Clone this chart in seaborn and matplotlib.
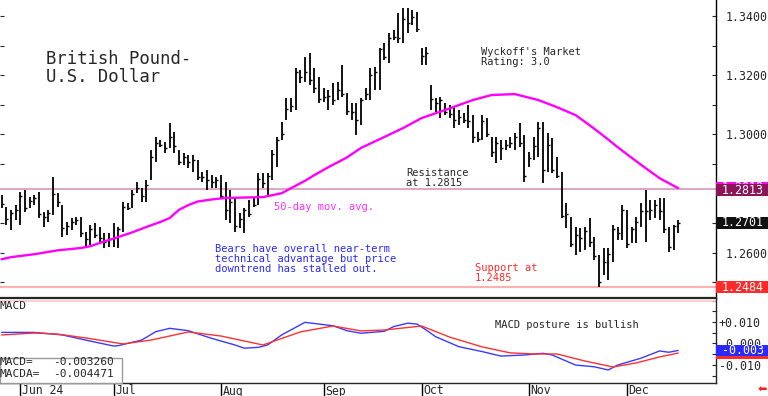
import numpy as np
import pandas as pd
import matplotlib
matplotlib.use("Agg")
import matplotlib.pyplot as plt
import matplotlib.transforms as mtransforms
from matplotlib.patches import Rectangle
import seaborn as sns

# ================================
# Data
# ================================
dates = pd.bdate_range("2024-05-28", "2024-12-17")   # trading days shown

high = [1.2795, 1.2754, 1.2744, 1.2761, 1.2805, 1.2812, 1.2788, 1.2795, 1.2805, 1.2737,
        1.2744, 1.2856, 1.2801, 1.2761, 1.2703, 1.2717, 1.2720, 1.2720, 1.2670, 1.2693,
        1.2700, 1.2687, 1.2666, 1.2666, 1.2700, 1.2687, 1.2771, 1.2768, 1.2812, 1.2839,
        1.2818, 1.2845, 1.2947, 1.2991, 1.2981, 1.2974, 1.3038, 1.3008, 1.2947, 1.2937,
        1.2930, 1.2930, 1.2913, 1.2873, 1.2879, 1.2862, 1.2856, 1.2862, 1.2839, 1.2812,
        1.2785, 1.2734, 1.2751, 1.2778, 1.2788, 1.2869, 1.2869, 1.2869, 1.2947, 1.2991,
        1.3042, 1.3123, 1.3123, 1.3224, 1.3217, 1.3261, 1.3275, 1.3224, 1.3194, 1.3156,
        1.3150, 1.3173, 1.3177, 1.3234, 1.3140, 1.3106, 1.3106, 1.3123, 1.3156, 1.3224,
        1.3227, 1.3292, 1.3309, 1.3342, 1.3353, 1.3410, 1.3427, 1.3427, 1.3420, 1.3413,
        1.3292, 1.3295, 1.3167, 1.3123, 1.3126, 1.3106, 1.3099, 1.3089, 1.3082, 1.3072,
        1.3099, 1.3065, 1.3008, 1.3065, 1.3055, 1.2991, 1.2991, 1.2981, 1.2981, 1.2991,
        1.3004, 1.3038, 1.2998, 1.2940, 1.2991, 1.3042, 1.3042, 1.3004, 1.2987, 1.2923,
        1.2873, 1.2768, 1.2720, 1.2687, 1.2683, 1.2687, 1.2717, 1.2653, 1.2592, 1.2616,
        1.2616, 1.2693, 1.2687, 1.2761, 1.2744, 1.2687, 1.2720, 1.2768, 1.2812, 1.2778,
        1.2778, 1.2785, 1.2785, 1.2687, 1.2693, 1.2712]

low = [1.2751, 1.2693, 1.2676, 1.2710, 1.2693, 1.2737, 1.2751, 1.2761, 1.2717, 1.2687,
       1.2703, 1.2727, 1.2754, 1.2653, 1.2659, 1.2676, 1.2693, 1.2653, 1.2619, 1.2626,
       1.2649, 1.2636, 1.2616, 1.2619, 1.2619, 1.2616, 1.2670, 1.2744, 1.2751, 1.2801,
       1.2771, 1.2771, 1.2845, 1.2906, 1.2957, 1.2937, 1.2954, 1.2937, 1.2896, 1.2896,
       1.2886, 1.2873, 1.2845, 1.2839, 1.2812, 1.2818, 1.2818, 1.2785, 1.2710, 1.2700,
       1.2670, 1.2683, 1.2666, 1.2720, 1.2754, 1.2761, 1.2818, 1.2795, 1.2845, 1.2889,
       1.2981, 1.3048, 1.3075, 1.3082, 1.3173, 1.3177, 1.3167, 1.3140, 1.3106, 1.3109,
       1.3082, 1.3099, 1.3116, 1.3126, 1.3065, 1.3048, 1.2998, 1.3031, 1.3116, 1.3116,
       1.3150, 1.3150, 1.3251, 1.3241, 1.3319, 1.3309, 1.3309, 1.3342, 1.3370, 1.3346,
       1.3234, 1.3234, 1.3082, 1.3075, 1.3055, 1.3065, 1.3055, 1.3021, 1.3031, 1.3038,
       1.3021, 1.2971, 1.2974, 1.2981, 1.2991, 1.2923, 1.2903, 1.2913, 1.2947, 1.2954,
       1.2947, 1.2957, 1.2839, 1.2889, 1.2913, 1.2923, 1.2835, 1.2873, 1.2869, 1.2852,
       1.2717, 1.2683, 1.2619, 1.2592, 1.2602, 1.2609, 1.2619, 1.2575, 1.2484, 1.2524,
       1.2507, 1.2568, 1.2643, 1.2643, 1.2616, 1.2633, 1.2633, 1.2687, 1.2636, 1.2710,
       1.2717, 1.2710, 1.2666, 1.2602, 1.2609, 1.2666]

close = [1.2765, 1.2715, 1.2735, 1.2745, 1.2790, 1.2750, 1.2775, 1.2785, 1.2730, 1.2720,
         1.2735, 1.2800, 1.2770, 1.2685, 1.2690, 1.2705, 1.2710, 1.2665, 1.2645, 1.2680,
         1.2660, 1.2650, 1.2635, 1.2645, 1.2650, 1.2680, 1.2755, 1.2750, 1.2800, 1.2820,
         1.2790, 1.2830, 1.2925, 1.2970, 1.2965, 1.2955, 1.2990, 1.2960, 1.2905, 1.2925,
         1.2905, 1.2915, 1.2855, 1.2855, 1.2845, 1.2840, 1.2845, 1.2790, 1.2745, 1.2770,
         1.2690, 1.2715, 1.2745, 1.2730, 1.2760, 1.2850, 1.2835, 1.2860, 1.2935, 1.2980,
         1.3000, 1.3085, 1.3095, 1.3210, 1.3195, 1.3210, 1.3185, 1.3155, 1.3120, 1.3125,
         1.3130, 1.3115, 1.3150, 1.3135, 1.3080, 1.3075, 1.3050, 1.3115, 1.3135, 1.3200,
         1.3210, 1.3290, 1.3260, 1.3325, 1.3330, 1.3325, 1.3390, 1.3375, 1.3395, 1.3355,
         1.3265, 1.3275, 1.3120, 1.3105, 1.3115, 1.3075, 1.3070, 1.3050, 1.3060, 1.3050,
         1.3045, 1.2990, 1.2985, 1.3045, 1.3000, 1.2940, 1.2970, 1.2955, 1.2965, 1.2970,
         1.2990, 1.2970, 1.2860, 1.2920, 1.2960, 1.3020, 1.2880, 1.2965, 1.2880, 1.2860,
         1.2725, 1.2730, 1.2630, 1.2660, 1.2650, 1.2675, 1.2635, 1.2590, 1.2500, 1.2570,
         1.2595, 1.2680, 1.2665, 1.2745, 1.2630, 1.2680, 1.2705, 1.2740, 1.2740, 1.2745,
         1.2760, 1.2740, 1.2680, 1.2620, 1.2690, 1.2701]

# 50-day moving average, sampled along the curve (trading-day number, value)
ma_day = [0, 2, 7, 12, 17, 19, 21, 23, 25, 28, 31, 34, 36, 38, 40, 42, 45, 48, 56,
          60, 62, 65, 67, 70, 74, 77, 82, 86, 90, 95, 101, 105, 110, 115, 119, 123,
          126, 129, 132, 135, 138, 141, 145]
ma_val = [1.2578, 1.2585, 1.2595, 1.2608, 1.2616, 1.2622, 1.2633, 1.2643, 1.2653,
          1.2669, 1.2687, 1.2704, 1.2717, 1.2745, 1.2761, 1.2773, 1.2780, 1.2785,
          1.2788, 1.2801, 1.2818, 1.2843, 1.2862, 1.2889, 1.2922, 1.2954, 1.2991,
          1.3021, 1.3055, 1.3082, 1.3116, 1.3133, 1.3136, 1.3116, 1.3092, 1.3065,
          1.3031, 1.2995, 1.2957, 1.2921, 1.2886, 1.2852, 1.2818]

# MACD (blue) and MACDA / signal (red)
macd_day = [0, 7, 13, 18, 24, 25, 30, 33, 36, 40, 45, 50, 52, 55, 57, 60, 65, 71, 74,
            77, 82, 84, 87, 89, 91, 93, 98, 103, 107, 112, 116, 118, 123, 127, 130,
            132, 137, 141, 143, 145]
macd_val = [0.0052, 0.0052, 0.0040, 0.0016, -0.0012, -0.0010, 0.0016, 0.0055, 0.0071,
            0.0060, 0.0024, -0.0007, -0.0022, -0.0018, -0.0007, 0.0040, 0.0099, 0.0083,
            0.0060, 0.0048, 0.0057, 0.0079, 0.0095, 0.0091, 0.0063, 0.0032, -0.0015,
            -0.0038, -0.0059, -0.0054, -0.0046, -0.0054, -0.0101, -0.0109, -0.0124,
            -0.0101, -0.0069, -0.0035, -0.0041, -0.003260]
sig_day = [0, 7, 12, 18, 26, 32, 40, 47, 56, 64, 71, 77, 82, 90, 96, 103, 109, 114,
           119, 125, 131, 136, 141, 145]
sig_val = [0.0040, 0.0049, 0.0044, 0.0026, -0.0002, 0.0016, 0.0054, 0.0035, -0.0007,
           0.0054, 0.0082, 0.0059, 0.0063, 0.0082, 0.0030, -0.0016, -0.0044, -0.0049,
           -0.0049, -0.0082, -0.0110, -0.0091, -0.0063, -0.004471]

month_labels = ["Jun 24", "Jul", "Aug", "Sep", "Oct", "Nov", "Dec"]
resistance = 1.2815
support = 1.2485
macd_ref = 0.0199
price_ticks = [1.26, 1.30, 1.32, 1.34]
price_minor = [1.25, 1.27, 1.29, 1.31, 1.33]
macd_ticks = [-0.010, 0.0, 0.010]
macd_tick_labels = ["-0.010", " 0.000", "+0.010"]
macd_minor = [-0.015, -0.005, 0.005, 0.015, 0.020]

# ================================
# Figure / layout (pixel helpers)
# ================================
sns.set_style("white")
plt.rcParams['font.family'] = ['DejaVu Sans Mono', 'DejaVu Sans']

W, H = 768, 396
fig = plt.figure(figsize=(W / 100, H / 100), dpi=100)
fig.patch.set_facecolor("white")

def fx(x):
    return x / W

def fy(y):
    return 1 - y / H

ax_p = fig.add_axes([0, fy(298), fx(716), 298 / H])
ax_m = fig.add_axes([0, fy(383), fx(716), 85 / H])

day = np.arange(len(dates))
xlim = (-0.36, 153.1)

# ================================
# Price panel
# ================================
ax_p.axhline(resistance, color="#d9a9c6", lw=1.5, zorder=1)
ax_p.axhline(support, color="#ffb0b0", lw=1.5, zorder=1)
ax_p.vlines(day, low, high, color="black", lw=1.3, zorder=3)
ax_p.hlines(close, day, day + 0.45, color="black", lw=1.0, zorder=3)
sns.lineplot(x=ma_day, y=ma_val, ax=ax_p, color="#ff00ff", lw=1.7, zorder=4)

ax_p.set_xlim(*xlim)
ax_p.set_ylim(1.2447, 1.3454)
ax_p.set_xticks([])
ax_p.set_xlabel("")
ax_p.set_ylabel("")
ax_p.yaxis.set_ticks_position("both")
ax_p.set_yticks(price_ticks)
ax_p.set_yticklabels([f"{v:.4f}" for v in price_ticks])
ax_p.set_yticks(price_minor, minor=True)
ax_p.tick_params(axis="y", which="both", direction="in", length=3, width=0.8,
                 labelleft=False, labelright=True, pad=7, labelsize=8.4)
for s in ["left", "top", "bottom"]:
    ax_p.spines[s].set_visible(False)
ax_p.spines["right"].set_color("black")
ax_p.spines["right"].set_linewidth(1.0)

# ================================
# MACD panel
# ================================
ax_m.axhline(macd_ref, color="#ffc8c8", lw=1.2, zorder=1)
sns.lineplot(x=macd_day, y=macd_val, ax=ax_m, color="#3a3aff", lw=1.0, zorder=3)
sns.lineplot(x=sig_day, y=sig_val, ax=ax_m, color="#ff3030", lw=1.0, zorder=3)
ax_m.set_xlim(*xlim)
ax_m.set_ylim(-0.0185, 0.0213)
ax_m.set_xticks([])
ax_m.set_xlabel("")
ax_m.set_ylabel("")
ax_m.yaxis.tick_right()
ax_m.set_yticks(macd_ticks)
ax_m.set_yticklabels(macd_tick_labels)
ax_m.set_yticks(macd_minor, minor=True)
ax_m.tick_params(axis="y", which="both", direction="in", length=3, width=0.8,
                 pad=2, labelsize=8.4)
ax_m.spines["left"].set_visible(False)
ax_m.spines["top"].set_linewidth(1.6)
ax_m.spines["bottom"].set_linewidth(1.0)
ax_m.spines["right"].set_linewidth(1.0)

# month ticks + labels under the MACD panel
trans_mx = ax_m.get_xaxis_transform()
month_start = [i for i in range(1, len(dates)) if dates[i].month != dates[i - 1].month]
for pos, lab in zip(month_start, month_labels):
    ax_m.plot([pos, pos], [0, -13 / 85], color="black", lw=1.0,
              transform=trans_mx, clip_on=False)
    ax_m.text(pos + 0.3, -1.5 / 85, lab, transform=trans_mx, ha="left", va="top",
              fontsize=8.3, clip_on=False)

# ================================
# Right-hand value boxes (later boxes sit on top)
# ================================
def value_box(ax, yval, h, color, text, z, txtcolor="white"):
    tr = mtransforms.blended_transform_factory(ax.transAxes, ax.transData)
    ax.add_patch(Rectangle((1.0, yval - h / 2), 52 / 716, h, transform=tr,
                           facecolor=color, edgecolor="none", clip_on=False, zorder=z))
    ax.text(1.0 + 27 / 716, yval, text, transform=tr, ha="center", va="center",
            color=txtcolor, fontsize=8.4, clip_on=False, zorder=z + 0.5)

value_box(ax_p, ma_val[-1] + 0.0002, 0.0041, "#ff00ff", f"{ma_val[-1]:.4f}", 10)
value_box(ax_p, 1.2811, 0.0041, "#8a1559", "1.2813", 11)
value_box(ax_p, close[-1], 0.0041, "#111111", f"{close[-1]:.4f}", 12)
value_box(ax_p, 1.2484, 0.0041, "#ff2a2a", "1.2484", 13)
value_box(ax_m, sig_val[-1], 0.0052, "#ff2a2a", "", 10)
value_box(ax_m, macd_val[-1], 0.0052, "#2a2aff", f"{macd_val[-1]:.3f}", 11)

# ================================
# Annotations
# ================================
fig.text(fx(46), fy(50), "British Pound-\nU.S. Dollar", fontsize=12.4,
         ha="left", va="top", linespacing=1.0)
fig.text(fx(481), fy(47), "Wyckoff's Market\nRating: 3.0", fontsize=7.5,
         ha="left", va="top", linespacing=1.0)
fig.text(fx(406), fy(168), "Resistance\nat 1.2815", fontsize=7.5,
         ha="left", va="top", linespacing=1.0)
fig.text(fx(274), fy(202), "50-day mov. avg.", fontsize=7.5, color="#ff30ff",
         ha="left", va="top")
fig.text(fx(215), fy(244),
         "Bears have overall near-term\ntechnical advantage but price\ndowntrend has stalled out.",
         fontsize=7.5, color="#2a2aff", ha="left", va="top", linespacing=1.0)
fig.text(fx(475), fy(263), "Support at\n1.2485", fontsize=7.5, color="#ff2a2a",
         ha="left", va="top", linespacing=1.0)
fig.text(fx(495), fy(320), "MACD posture is bullish", fontsize=7.5,
         ha="left", va="top")
fig.text(fx(0), fy(301), "MACD", fontsize=8, ha="left", va="top")

fig.patches.append(Rectangle((fx(0), fy(383)), fx(122), 25 / H, transform=fig.transFigure,
                             facecolor="white", edgecolor="#9a9a9a", lw=1.0, zorder=5))
fig.text(fx(0), fy(357), "MACD=", fontsize=8, ha="left", va="top", zorder=6)
fig.text(fx(0), fy(369), "MACDA=", fontsize=8, ha="left", va="top", zorder=6)
fig.text(fx(114), fy(357), f"{macd_val[-1]:.6f}", fontsize=8, ha="right", va="top", zorder=6)
fig.text(fx(114), fy(369), f"{sig_val[-1]:.6f}", fontsize=8, ha="right", va="top", zorder=6)

fig.text(fx(762), fy(390), "\u2b05", fontsize=8, color="#ff2020", ha="center",
         va="center", family=["DejaVu Sans"])

fig.savefig("out.png", dpi=100, facecolor="white")
plt.close(fig)
